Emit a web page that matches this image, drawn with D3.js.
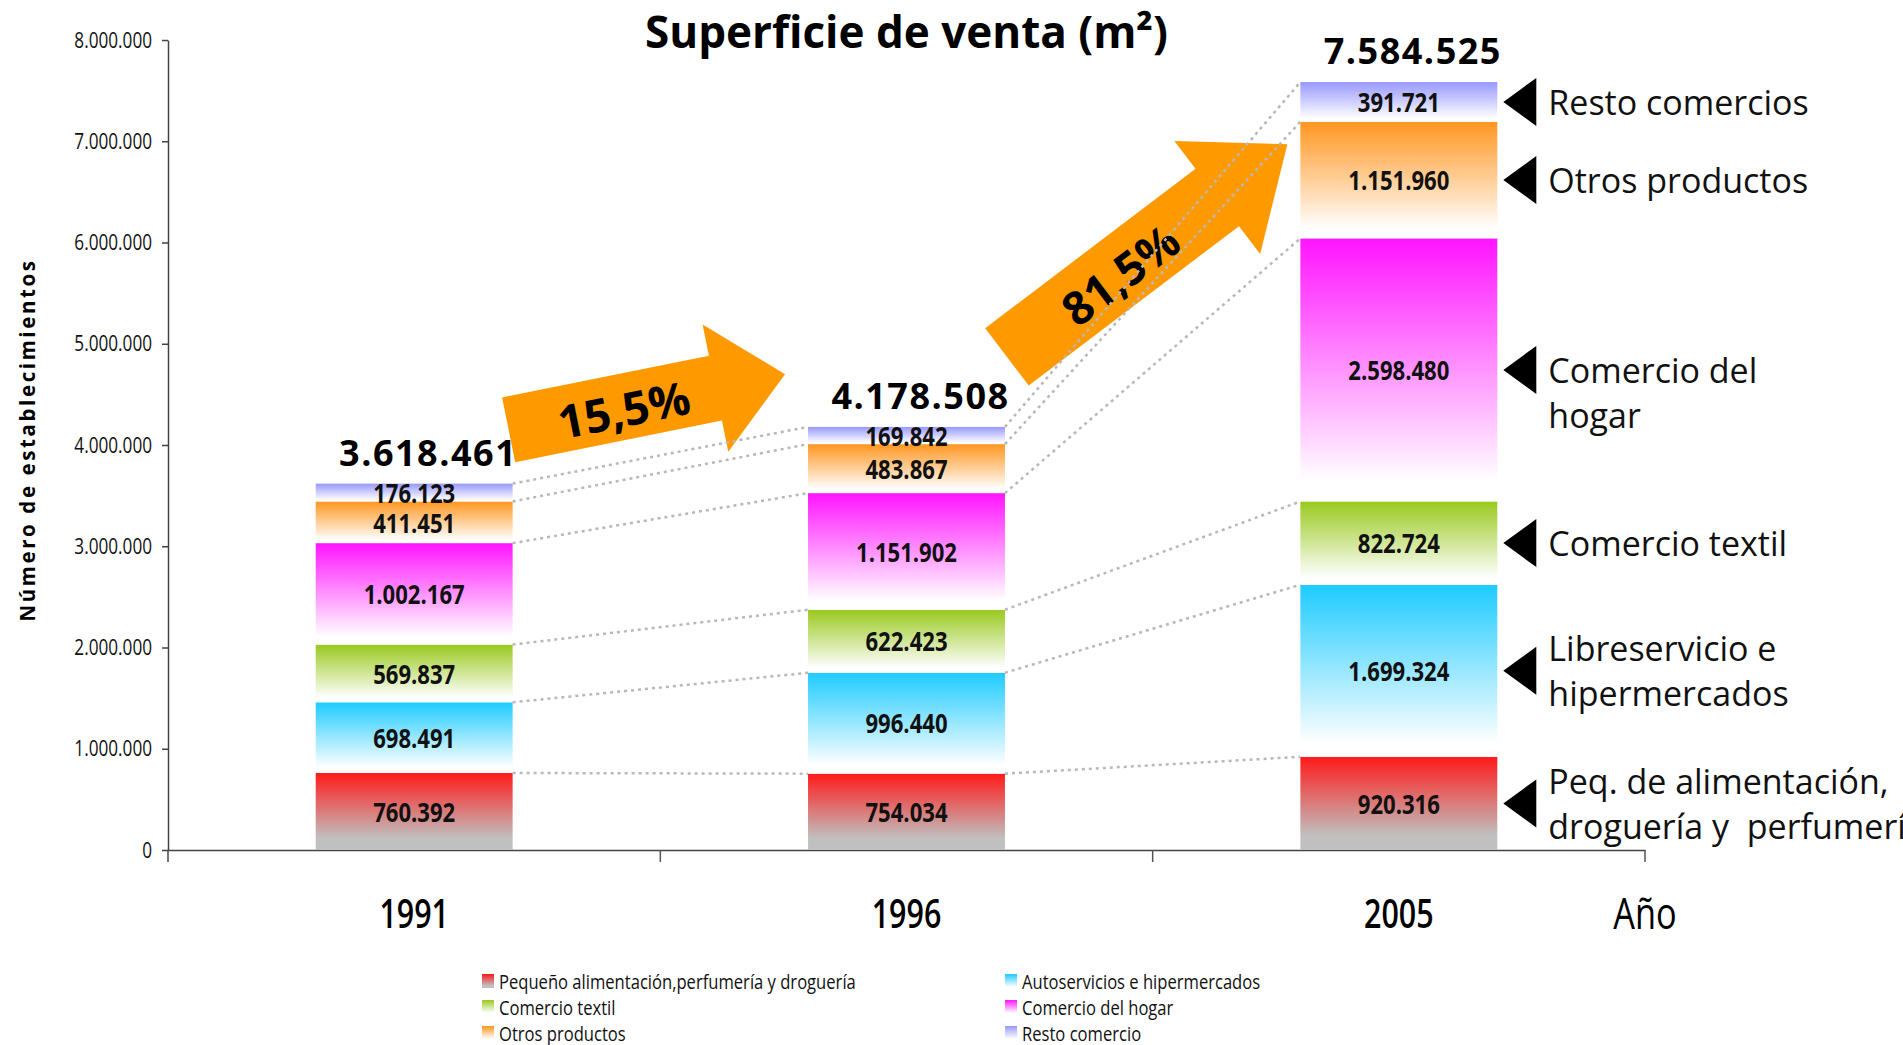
<!DOCTYPE html>
<html>
<head>
<meta charset="utf-8">
<script src="https://cdn.jsdelivr.net/npm/d3@7"></script>
<style>
    body { margin: 0; background: #ffffff; }
    svg text { font-family: "Open Sans", "DejaVu Sans", sans-serif; }
</style>
</head>
<body>
<div id="chart"></div>
<script>
// categories
var years = ["1991", "1996", "2005"];
var seriesNames = [
    "Pequeño alimentación,perfumería y droguería",
    "Autoservicios e hipermercados",
    "Comercio textil",
    "Comercio del hogar",
    "Otros productos",
    "Resto comercio"
];
// series values (m2), one value per year
var peqAlimentacion = [760392, 754034, 920316];
var autoservicios = [698491, 996440, 1699324];
var comercioTextil = [569837, 622423, 822724];
var comercioHogar = [1002167, 1151902, 2598480];
var otrosProductos = [411451, 483867, 1151960];
var restoComercio = [176123, 169842, 391721];
// growth between the years
var growthLabels = ["15,5%", "81,5%"];
// tick labels
var yTicks = [0, 1000000, 2000000, 3000000, 4000000, 5000000, 6000000, 7000000, 8000000];
// labels on the right of the last bar (bottom to top)
var sideLabels = [
    ["Peq. de alimentación,", "droguería y  perfumería"],
    ["Libreservicio e", "hipermercados"],
    ["Comercio textil"],
    ["Comercio del", "hogar"],
    ["Otros productos"],
    ["Resto comercios"]
];
// gradient colours, top and bottom of each segment
var topColors = ["#ff1a1a", "#1ecbff", "#99c91e", "#ff14ff", "#ff9620", "#9898ff"];
var bottomColors = ["#c0c0c0", "#ffffff", "#ffffff", "#ffffff", "#ffffff", "#ffffff"];

function draw() {
    var w = 1903;
    var h = 1045;
    var narrow = 0.78;

    var svg = d3.select("#chart")
        .append("svg")
        .attr("width", w)
        .attr("height", h);

    // spanish number format 1.234.567
    var es = d3.formatLocale({ decimal: ",", thousands: ".", grouping: [3], currency: ["", ""] });
    var fmt = es.format(",d");

    // build a table for d3.stack
    var seriesValues = [peqAlimentacion, autoservicios, comercioTextil, comercioHogar, otrosProductos, restoComercio];
    var table = years.map(function(year, i) {
        var row = { year: year };
        seriesNames.forEach(function(name, j) {
            row[name] = seriesValues[j][i];
        });
        return row;
    });
    var stacked = d3.stack().keys(seriesNames)(table);
    var totals = table.map(function(row) {
        return d3.sum(seriesNames, function(k) { return row[k]; });
    });

    // gradients
    var defs = svg.append("defs");
    seriesNames.forEach(function(name, i) {
        var g = defs.append("linearGradient")
            .attr("id", "grad" + i)
            .attr("x1", 0).attr("y1", 0).attr("x2", 0).attr("y2", 1);
        g.append("stop").attr("offset", "0%").attr("stop-color", topColors[i]);
        g.append("stop").attr("offset", i == 0 ? "85%" : "92%").attr("stop-color", bottomColors[i]);
        g.append("stop").attr("offset", "100%").attr("stop-color", bottomColors[i]);
    });

    // scales
    var x = d3.scaleBand()
        .domain(years)
        .range([168, 1645])
        .padding(0);
    var barW = x.bandwidth() * 0.4;
    function barLeft(year) {
        return x(year) + (x.bandwidth() - barW) / 2;
    }
    function barMid(year) {
        return x(year) + x.bandwidth() / 2;
    }

    var y = d3.scaleLinear()
        .domain([0, 8000000])
        .range([850, 40]);

    // title
    svg.append("text")
        .attr("x", (x.range()[0] + x.range()[1]) / 2)
        .attr("y", 48)
        .attr("text-anchor", "middle")
        .attr("font-size", 44)
        .attr("font-weight", "bold")
        .text("Superficie de venta (m²)");

    // y axis
    var yAxis = svg.append("g")
        .attr("transform", "translate(" + x.range()[0] + ",0)")
        .call(d3.axisLeft(y).tickValues(yTicks).tickSize(6).tickSizeOuter(0).tickFormat(fmt));
    yAxis.attr("font-family", null).attr("font-size", null);
    yAxis.select(".domain").attr("stroke", "#444").attr("stroke-width", 1.5);
    yAxis.selectAll(".tick line").attr("stroke", "#444").attr("stroke-width", 1.5);
    yAxis.selectAll(".tick text")
        .attr("font-size", 22)
        .attr("fill", "#111")
        .attr("x", -16 / narrow)
        .attr("transform", "scale(" + narrow + ",1)");
    svg.append("line")
        .attr("x1", x.range()[0]).attr("x2", x.range()[0])
        .attr("y1", y(0)).attr("y2", y(0) + 12)
        .attr("stroke", "#444").attr("stroke-width", 1.5);

    // y title
    svg.append("text")
        .attr("transform", "translate(27," + (y.range()[1] + 400) + ") rotate(-90)")
        .attr("text-anchor", "middle")
        .attr("dominant-baseline", "central")
        .attr("font-size", 20.5)
        .attr("font-weight", "bold")
        .attr("letter-spacing", 2.6)
        .text("Número de establecimientos");

    // x axis
    var xAxis = svg.append("g")
        .attr("transform", "translate(0," + y(0) + ")")
        .call(d3.axisBottom(x).tickSize(0).tickSizeOuter(0).tickFormat(""));
    xAxis.select(".domain").attr("stroke", "#444").attr("stroke-width", 1.5);
    svg.append("g")
        .selectAll("line")
        .data(years)
        .enter()
        .append("line")
        .attr("x1", function(d) { return x(d) + x.bandwidth(); })
        .attr("x2", function(d) { return x(d) + x.bandwidth(); })
        .attr("y1", y(0))
        .attr("y2", y(0) + 12)
        .attr("stroke", "#555")
        .attr("stroke-width", 1.5);

    // year labels
    svg.append("g")
        .selectAll("text")
        .data(years)
        .enter()
        .append("text")
        .attr("transform", function(d) {
            return "translate(" + barMid(d) + ",928) scale(" + narrow + ",1)";
        })
        .attr("text-anchor", "middle")
        .attr("font-size", 39)
        .attr("font-weight", 600)
        .text(function(d) { return d; });
    svg.append("text")
        .attr("transform", "translate(" + x.range()[1] + ",929) scale(" + narrow + ",1)")
        .attr("text-anchor", "middle")
        .attr("font-size", 44)
        .text("Año");

    // bars
    svg.append("g")
        .selectAll("g")
        .data(stacked)
        .enter()
        .append("g")
        .attr("fill", function(d, i) { return "url(#grad" + i + ")"; })
        .selectAll("rect")
        .data(function(d) { return d; })
        .enter()
        .append("rect")
        .attr("x", function(d) { return barLeft(d.data.year); })
        .attr("y", function(d) { return y(d[1]); })
        .attr("width", barW)
        .attr("height", function(d) { return y(d[0]) - y(d[1]); });

    // totals above the bars
    svg.append("g")
        .selectAll("text")
        .data(years)
        .enter()
        .append("text")
        .attr("x", function(d) { return barMid(d) + 14; })
        .attr("y", function(d, i) { return y(totals[i]) - 18; })
        .attr("text-anchor", "middle")
        .attr("font-size", 36)
        .attr("font-weight", "bold")
        .attr("letter-spacing", 1.5)
        .text(function(d, i) { return fmt(totals[i]); });

    // growth arrows, drawn from tail centre to tip
    function arrowShape(len, headLen, bodyHalf, headHalf) {
        var b = len - headLen;
        return "M0," + (-bodyHalf) + "L" + b + "," + (-bodyHalf) + "L" + b + "," + (-headHalf) +
            "L" + len + ",0L" + b + "," + headHalf + "L" + b + "," + bodyHalf + "L0," + bodyHalf + "Z";
    }
    var arrows = [
        { tail: [barLeft(years[0]) + barW - 4, y(4150000)], tip: [barLeft(years[1]) - 23, y(4700000)], head: 71, body: 33, headW: 65, textAt: 117 },
        { tail: [barLeft(years[1]) + barW + 2, y(4870000)], tip: [barLeft(years[2]) - 13, y(6970000)], head: 88, body: 36, headW: 71, textAt: 140 }
    ];
    arrows.forEach(function(a, i) {
        var dx = a.tip[0] - a.tail[0];
        var dy = a.tip[1] - a.tail[1];
        var len = Math.sqrt(dx * dx + dy * dy);
        var ang = Math.atan2(dy, dx) * 180 / Math.PI;
        var g = svg.append("g")
            .attr("transform", "translate(" + a.tail[0] + "," + a.tail[1] + ") rotate(" + ang + ")");
        g.append("path")
            .attr("d", arrowShape(len, a.head, a.body, a.headW))
            .attr("fill", "#ff9900");
        g.append("text")
            .attr("x", a.textAt)
            .attr("y", 2)
            .attr("text-anchor", "middle")
            .attr("dominant-baseline", "central")
            .attr("font-size", 46)
            .attr("font-weight", "bold")
            .text(growthLabels[i]);
    });

    // dotted lines joining the segment tops
    var links = [];
    stacked.forEach(function(layer) {
        for (var i = 0; i < years.length - 1; i++) {
            links.push({
                x1: barLeft(years[i]) + barW, y1: y(layer[i][1]),
                x2: barLeft(years[i + 1]), y2: y(layer[i + 1][1])
            });
        }
    });
    svg.append("g")
        .selectAll("line")
        .data(links)
        .enter()
        .append("line")
        .attr("x1", function(d) { return d.x1; })
        .attr("y1", function(d) { return d.y1; })
        .attr("x2", function(d) { return d.x2; })
        .attr("y2", function(d) { return d.y2; })
        .attr("stroke", "#b8b8b8")
        .attr("stroke-width", 2.5)
        .attr("stroke-dasharray", "3 4");

    // values inside segments
    svg.append("g")
        .selectAll("g")
        .data(stacked)
        .enter()
        .append("g")
        .selectAll("text")
        .data(function(d) { return d; })
        .enter()
        .append("text")
        .attr("transform", function(d) {
            return "translate(" + barMid(d.data.year) + "," + y((d[0] + d[1]) / 2) + ") scale(0.85,1)";
        })
        .attr("text-anchor", "middle")
        .attr("dominant-baseline", "central")
        .attr("font-size", 26)
        .attr("font-weight", "bold")
        .attr("fill", "#111")
        .text(function(d) { return fmt(d[1] - d[0]); });

    // labels on the right of the last bar
    var last = years.length - 1;
    var rightX = barLeft(years[last]) + barW;
    var side = svg.append("g")
        .selectAll("g")
        .data(stacked)
        .enter()
        .append("g")
        .attr("transform", function(d) {
            return "translate(" + rightX + "," + y((d[last][0] + d[last][1]) / 2) + ")";
        });
    side.append("path")
        .attr("d", "M6,0L39,-24L39,24Z")
        .attr("fill", "#000");
    side.append("text")
        .attr("x", 51)
        .attr("font-size", 34)
        .attr("fill", "#111")
        .attr("dominant-baseline", "central")
        .style("white-space", "pre")
        .each(function(d, i) {
            var lines = sideLabels[i];
            var start = i == 3 ? 0 : -(lines.length - 1) * 45 / 2;
            var t = d3.select(this);
            lines.forEach(function(line, k) {
                t.append("tspan")
                    .attr("x", 51)
                    .attr("y", start + k * 45)
                    .text(line);
            });
        });

    // legend
    var legend = svg.append("g")
        .selectAll("g")
        .data(seriesNames)
        .enter()
        .append("g")
        .attr("transform", function(d, i) {
            return "translate(" + (482 + (i % 2) * 523) + "," + (981 + Math.floor(i / 2) * 26) + ")";
        });
    legend.append("rect")
        .attr("x", 0)
        .attr("y", -7)
        .attr("width", 12)
        .attr("height", 14)
        .attr("fill", function(d, i) { return "url(#grad" + i + ")"; });
    legend.append("text")
        .attr("transform", "translate(17,0) scale(0.83,1)")
        .attr("dominant-baseline", "central")
        .attr("font-size", 20)
        .attr("fill", "#111")
        .text(function(d) { return d; });
}

window.onload = draw;
</script>
</body>
</html>
